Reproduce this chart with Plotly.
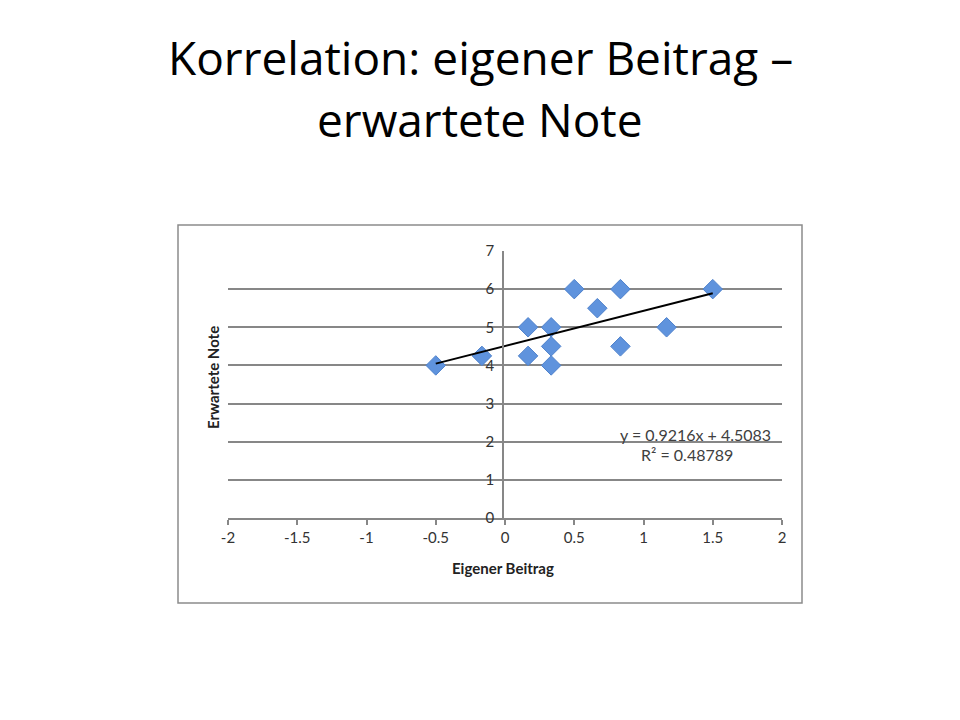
import plotly.graph_objects as go

# Data
eigener_beitrag = [-0.5, -1/6, 1/6, 1/3, 1/6, 1/3, 1/3, 0.5, 2/3, 5/6, 5/6, 7/6, 1.5]
erwartete_note = [4.0, 4.25, 5.0, 5.0, 4.25, 4.5, 4.0, 6.0, 5.5, 6.0, 4.5, 5.0, 6.0]

# Trendline parameters as shown on the chart
slope = 0.9216
intercept = 4.5083
r_squared = 0.48789

x_ticks = [-2, -1.5, -1, -0.5, 0, 0.5, 1, 1.5, 2]
y_ticks = [0, 1, 2, 3, 4, 5, 6, 7]

W, H = 960, 720
OX, OY = 8, 8  # page body margin offset
FONT = "Lato"
TITLE_FONT = "Open Sans"

x_min, x_max = min(eigener_beitrag), max(eigener_beitrag)
trend_x = [x_min, x_max]
trend_y = [slope * v + intercept for v in trend_x]

fig = go.Figure()

fig.add_trace(go.Scatter(
    x=eigener_beitrag, y=erwartete_note, mode="markers",
    marker=dict(symbol="diamond", size=15, color="#5F93DD",
                line=dict(color="#4F82CC", width=1)),
    showlegend=False, hoverinfo="x+y",
))
fig.add_trace(go.Scatter(
    x=trend_x, y=trend_y, mode="lines",
    line=dict(color="black", width=2),
    showlegend=False, hoverinfo="skip",
))

px = lambda v: (v - OX) / W
py = lambda v: 1 - (v - OY) / H

fig.update_layout(
    width=W, height=H,
    margin=dict(l=0, r=0, t=0, b=0, pad=0, autoexpand=False),
    paper_bgcolor="white", plot_bgcolor="white",
    font=dict(family=FONT, size=13, color="#333333"),
    xaxis=dict(
        domain=[px(228), px(782)], range=[-2, 2],
        tickvals=x_ticks, ticktext=[f"{t:g}" for t in x_ticks],
        showgrid=False, zeroline=False, automargin=False,
        showline=True, linecolor="#878787", linewidth=1.5,
        ticks="outside", ticklen=5, tickcolor="#878787", tickwidth=1.5,
        tickfont=dict(family=FONT, size=15, color="#333333"),
        fixedrange=True,
    ),
    yaxis=dict(
        domain=[py(518), py(251)], range=[0, 7],
        anchor="free", position=px(503),
        tickvals=y_ticks, ticktext=[str(t) for t in y_ticks],
        showgrid=True, gridcolor="#878787", gridwidth=1.5,
        zeroline=False, automargin=False,
        showline=True, linecolor="#878787", linewidth=1.5,
        ticks="", ticklabelstandoff=5,
        tickfont=dict(family=FONT, size=15, color="#333333"),
        fixedrange=True,
    ),
    shapes=[dict(type="rect", xref="paper", yref="paper",
                 x0=px(178), x1=px(802), y0=py(603), y1=py(225),
                 line=dict(color="#8c8c8c", width=1.5), layer="below")],
    annotations=[
        dict(text="Korrelation: eigener Beitrag –",
             xref="paper", yref="paper", x=px(480), y=py(57),
             xanchor="center", yanchor="middle", showarrow=False,
             font=dict(family=TITLE_FONT, size=46, color="#000000")),
        dict(text="erwartete Note",
             xref="paper", yref="paper", x=px(480), y=py(119),
             xanchor="center", yanchor="middle", showarrow=False,
             font=dict(family=TITLE_FONT, size=46, color="#000000")),
        dict(text="<b>Eigener Beitrag</b>", xref="paper", yref="paper",
             x=px(503), y=py(568), xanchor="center", yanchor="middle",
             showarrow=False, font=dict(family=FONT, size=15, color="#222222")),
        dict(text="<b>Erwartete Note</b>", xref="paper", yref="paper",
             x=px(213), y=py(378), xanchor="center", yanchor="middle",
             textangle=-90, showarrow=False,
             font=dict(family=FONT, size=15, color="#222222")),
        dict(text=f"y = {slope:.4f}x + {intercept:.4f}", xref="paper", yref="paper",
             x=px(695), y=py(434), xanchor="center", yanchor="middle",
             showarrow=False, font=dict(family=FONT, size=16, color="#404040")),
        dict(text=f"R² = {r_squared}", xref="paper", yref="paper",
             x=px(687), y=py(454), xanchor="center", yanchor="middle",
             showarrow=False, font=dict(family=FONT, size=16, color="#404040")),
    ],
)

fig.write_html("out.html")
